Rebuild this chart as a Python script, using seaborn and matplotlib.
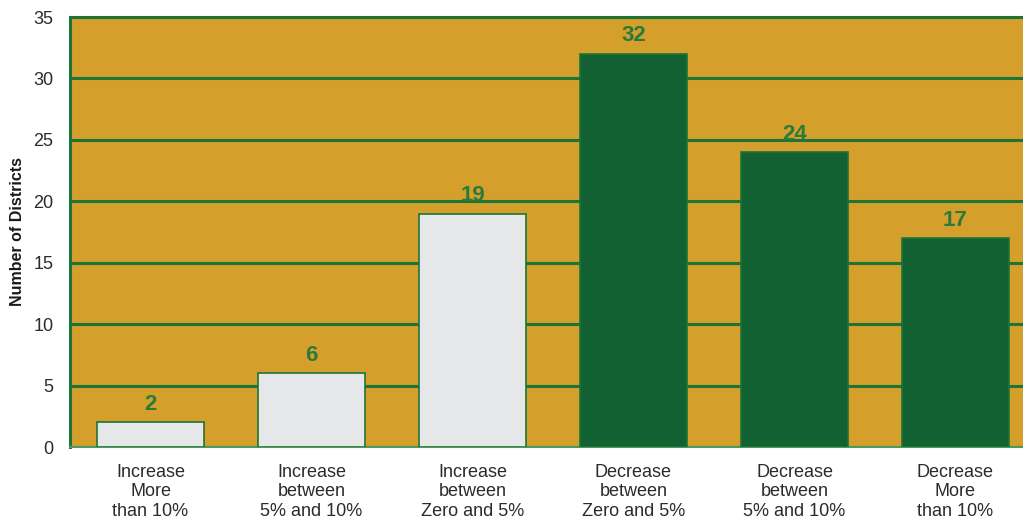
import numpy as np
import pandas as pd
import matplotlib.pyplot as plt
import seaborn as sns

# Data
categories = [
    "Increase\nMore\nthan 10%",
    "Increase\nbetween\n5% and 10%",
    "Increase\nbetween\nZero and 5%",
    "Decrease\nbetween\nZero and 5%",
    "Decrease\nbetween\n5% and 10%",
    "Decrease\nMore\nthan 10%",
]
districts = [2, 6, 19, 32, 24, 17]
bar_colors = ["#E6E7E8", "#E6E7E8", "#E6E7E8", "#126133", "#126133", "#126133"]

df = pd.DataFrame({"category": categories, "districts": districts})

sns.set_style("white")
plt.rcParams["font.family"] = ["Liberation Sans", "DejaVu Sans"]

bg = "#D49F2B"
green = "#1E7436"
label_green = "#2A7A3B"

fig = plt.figure(figsize=(10.23, 5.21), dpi=100)
# plot area runs past the right edge like the reference
ax = fig.add_axes([70 / 1023, 1 - 447 / 521, 966 / 1023, 430 / 521])
ax.set_facecolor(bg)

sns.barplot(data=df, x="category", y="districts", hue="category",
            palette=bar_colors, saturation=1, legend=False, width=0.67,
            edgecolor=green, linewidth=1.2, ax=ax, zorder=3)

ax.set_xlim(-0.5, 5.5)
ax.set_ylim(0, 35)
ax.set_yticks(np.arange(0, 36, 5))
ax.yaxis.grid(True, color=green, linewidth=2.2, zorder=1)
ax.set_axisbelow(True)

for i, v in enumerate(districts):
    ax.text(i, v + 0.6, str(v), ha="center", va="bottom", fontsize=16,
            fontweight="bold", color=label_green, zorder=4)

# x ticks sit between categories
ax.set_xticks(np.arange(-0.5, 6, 1), minor=False)
ax.set_xticklabels([""] * 7)
ax.set_xticks(np.arange(6), minor=True)
ax.set_xticklabels(categories, minor=True, fontsize=13, color="#2b2b2b",
                   linespacing=1.2)
ax.tick_params(axis="x", which="major", direction="out", length=6, width=2,
               color=green)
ax.tick_params(axis="x", which="minor", length=0, pad=12)
ax.tick_params(axis="y", direction="out", length=9, width=2.2, color=green,
               labelsize=13, labelcolor="#2b2b2b", pad=3)

for side in ["top", "left"]:
    ax.spines[side].set_color(green)
    ax.spines[side].set_linewidth(2.2)
ax.spines["right"].set_visible(False)
ax.spines["bottom"].set_color("#4E9A5E")
ax.spines["bottom"].set_linewidth(1.5)

ax.set_xlabel("")
ax.set_ylabel("Number of Districts", fontsize=11.5, fontweight="bold",
              color="#1a1a1a", labelpad=6)

plt.savefig("out.png", dpi=100)
